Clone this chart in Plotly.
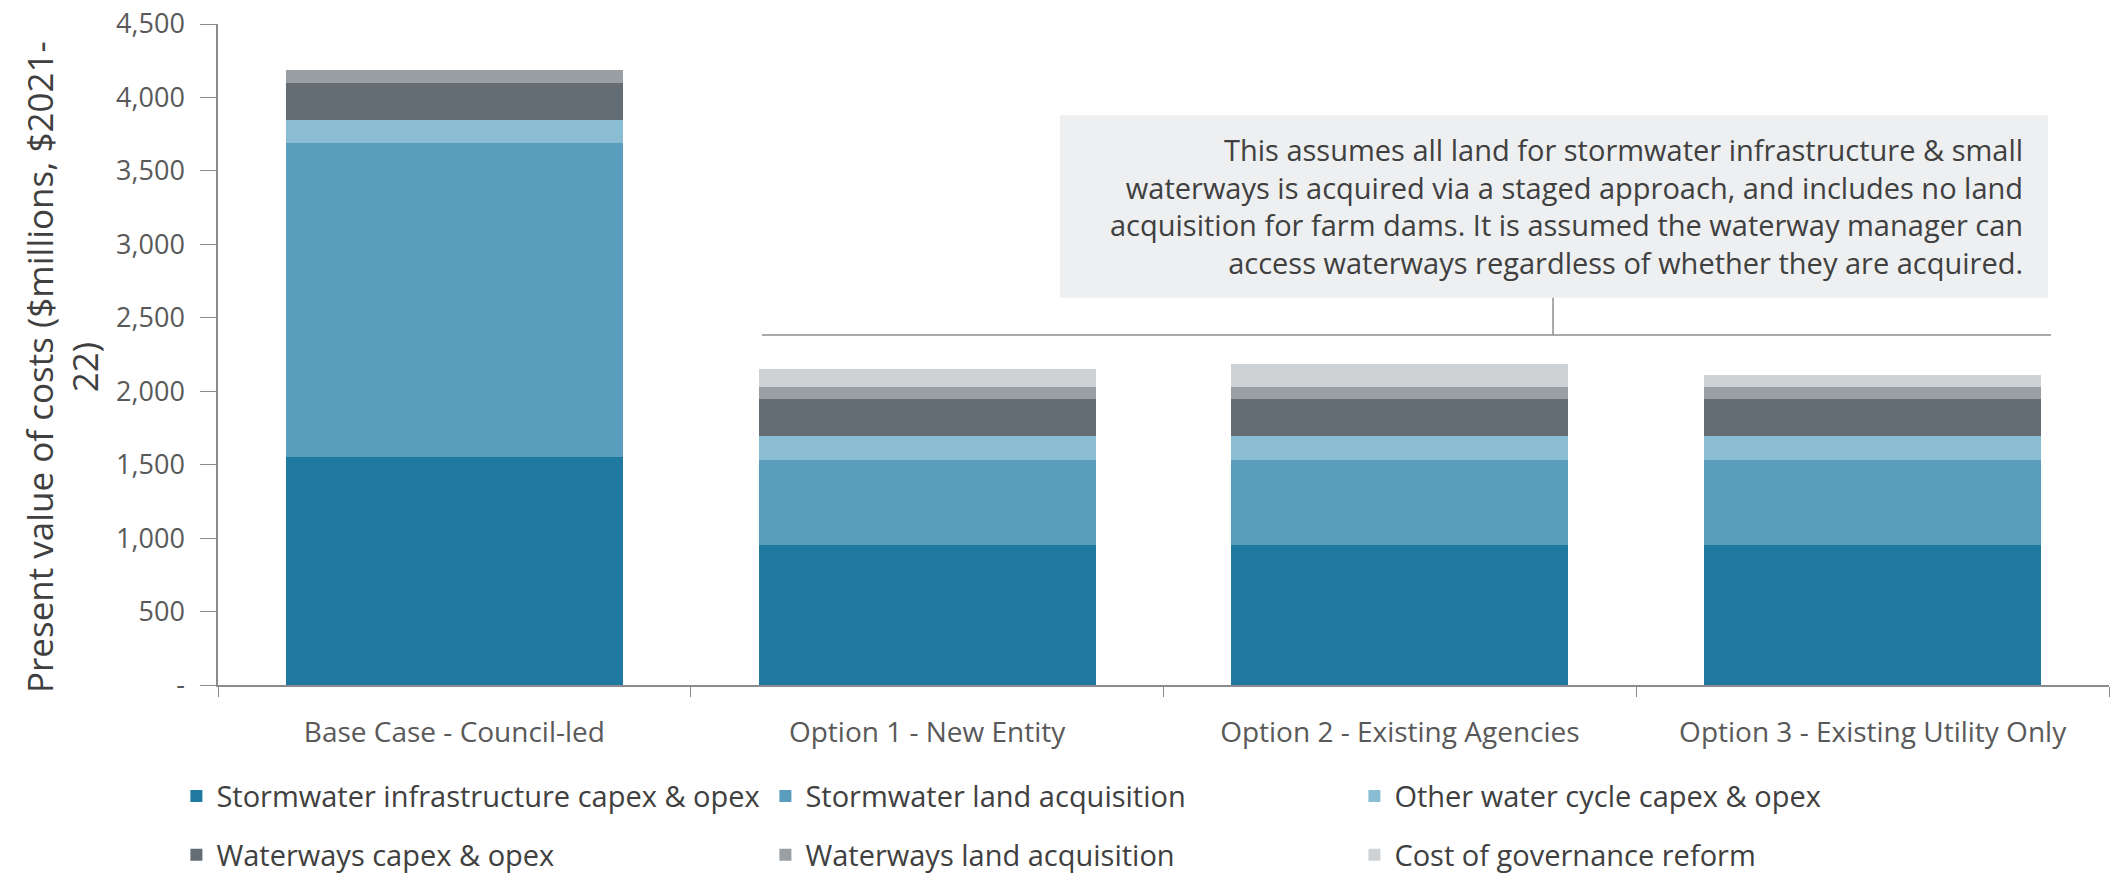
import plotly.graph_objects as go

categories = ["Base Case - Council-led", "Option 1 - New Entity",
              "Option 2 - Existing Agencies", "Option 3 - Existing Utility Only"]

stormwater_infra = [1549, 955, 955, 955]
stormwater_land = [2140, 576, 576, 576]
other_water_cycle = [157, 166, 166, 166]
waterways_capex = [250, 252, 252, 252]
waterways_land = [91, 82, 82, 82]
governance_reform = [0, 120, 155, 80]

series_names = ["Stormwater infrastructure capex & opex", "Stormwater land acquisition",
                "Other water cycle capex & opex", "Waterways capex & opex",
                "Waterways land acquisition", "Cost of governance reform"]
series_values = [stormwater_infra, stormwater_land, other_water_cycle,
                 waterways_capex, waterways_land, governance_reform]
colors = ["#1f79a0", "#5a9dbd", "#8abcd3", "#646d74", "#9a9fa3", "#cfd2d5"]

y_tickvals = [0, 500, 1000, 1500, 2000, 2500, 3000, 3500, 4000, 4500]
y_ticktext = ["-", "500", "1,000", "1,500", "2,000", "2,500", "3,000", "3,500", "4,000", "4,500"]

note_text = ("This assumes all land for stormwater infrastructure & small<br>"
             "waterways is acquired via a staged approach, and includes no land<br>"
             "acquisition for farm dams. It is assumed the waterway manager can<br>"
             "access waterways regardless of whether they are acquired.")

FONT = "Open Sans"

fig = go.Figure()
for i, (name, vals, col) in enumerate(zip(series_names, series_values, colors)):
    fig.add_trace(go.Bar(
        x=categories, y=vals, name=name, marker=dict(color=col, line=dict(width=0)),
        legend="legend" if i < 3 else "legend2",
    ))

legend_common = dict(
    orientation="h", xanchor="left", yanchor="middle",
    font=dict(family=FONT, size=29, color="#404040"),
    entrywidth=544, bgcolor="rgba(0,0,0,0)", traceorder="normal",
    itemclick=False, itemdoubleclick=False,
)

fig.update_layout(
    width=2113, height=874,
    margin=dict(l=218, r=4, t=24, b=189, autoexpand=False),
    paper_bgcolor="white", plot_bgcolor="white",
    barmode="stack", bargap=0.287,
    font=dict(family=FONT, color="#595959"),
    legend=dict(x=-0.022, y=-0.168, **legend_common),
    legend2=dict(x=-0.022, y=-0.257, **legend_common),
    xaxis=dict(
        type="category", showline=True, linecolor="#8c8c8c", linewidth=1.5,
        ticks="outside", tickson="boundaries", ticklen=10, tickcolor="#8c8c8c",
        tickfont=dict(family=FONT, size=28, color="#595959"),
        ticklabelstandoff=22, showgrid=False, zeroline=False, automargin=False,
    ),
    yaxis=dict(
        range=[0, 4500], tickvals=y_tickvals, ticktext=y_ticktext,
        showline=True, linecolor="#8c8c8c", linewidth=1.5,
        ticks="outside", ticklen=16, tickcolor="#8c8c8c",
        tickfont=dict(family=FONT, size=27, color="#595959"),
        ticklabelstandoff=10, showgrid=False, zeroline=False, automargin=False,
    ),
    shapes=[
        dict(type="rect", xref="paper", yref="paper", x0=0.4453, x1=0.9677, y0=0.586, y1=0.862,
             fillcolor="#edeff1", line=dict(width=0), layer="below"),
        dict(type="line", xref="paper", yref="paper", x0=0.2877, x1=0.9693, y0=0.5296, y1=0.5296,
             line=dict(color="#8c8c8c", width=1.5)),
        dict(type="line", xref="paper", yref="paper", x0=0.706, x1=0.706, y0=0.5296, y1=0.586,
             line=dict(color="#8c8c8c", width=1.5)),
    ],
    annotations=[
        dict(text=note_text, xref="paper", yref="paper", x=0.9556, y=0.7247,
             xanchor="right", yanchor="middle", align="right", showarrow=False,
             font=dict(family=FONT, size=29, color="#404040")),
        dict(text="Present value of costs ($millions, $2021-<br>22)", xref="paper", yref="paper",
             x=-0.0825, y=0.481, xanchor="center", yanchor="middle", textangle=-90,
             align="center", showarrow=False,
             font=dict(family=FONT, size=35, color="#404040")),
    ],
)

fig.write_html("out.html")
